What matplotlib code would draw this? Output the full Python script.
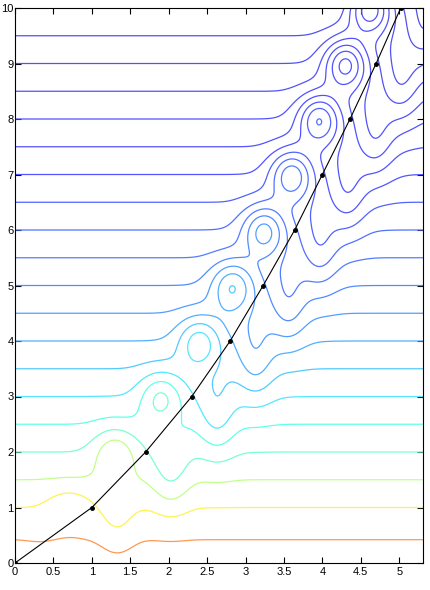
import numpy as np
import matplotlib
matplotlib.use("Agg")
import matplotlib.pyplot as plt

# path points (black line with dots)
path_x = [0.0, 1.0, 1.7, 2.3, 2.8, 3.23, 3.64, 4.0, 4.36, 4.7, 5.02]
path_y = [0, 1, 2, 3, 4, 5, 6, 7, 8, 9, 10]

# depth of the closed "bulb" left of each path point and of the dip right of it
bulb_depth = [0.15, 0.45, 0.9, 1.1, 1.3, 1.5, 1.7, 1.85, 2.0, 2.15, 2.3]
bulb_shift = [0.4, 0.3, 0.4, 0.4, 0.4, 0.4, 0.4, 0.4, 0.4, 0.4, 0.4]
dip_height = [0.1, 0.35, 0.55, 0.62, 0.68, 0.72, 0.76, 0.8, 0.82, 0.84, 0.86]

# contour levels
levels = [0.42, 1.0, 1.5, 2.0, 2.5, 3.0, 3.5, 4.0, 4.5, 5.0, 5.5, 6.0,
          6.5, 7.0, 7.5, 8.0, 8.5, 9.0, 9.5, 10.0, 10.5]

xticks = [0, 0.5, 1, 1.5, 2, 2.5, 3, 3.5, 4, 4.5, 5]
xtick_labels = ["0", "0.5", "1", "1.5", "2", "2.5", "3", "3.5", "4", "4.5", "5"]
yticks = list(range(11))

gx = np.linspace(0, 5.31, 500)
gy = np.linspace(-0.3, 10.8, 900)
X, Y = np.meshgrid(gx, gy)
F = Y.copy()
for k, (xi, yi, a, d, b) in enumerate(zip(path_x, path_y, bulb_depth,
                                           bulb_shift, dip_height)):
    sy = 0.35 if k < 2 else 0.45
    F -= a * np.exp(-(((X - xi + d) / 0.27) ** 2 + ((Y - yi) / sy) ** 2))
    F += b * np.exp(-(((X - xi - 0.33) / 0.23) ** 2 + ((Y - yi + 0.35) / 0.75) ** 2))

fig = plt.figure(figsize=(4.3, 5.9), dpi=100)
ax = fig.add_axes([15 / 430, 1 - 563 / 590, (423 - 15) / 430, (563 - 8) / 590])

cmap = plt.get_cmap("jet")
cols = []
for lv in levels:
    t = np.interp(lv, [0.42, 1.0, 1.5, 2.0, 3.0, 4.0, 5.0, 7.0, 10.5],
                  [0.80, 0.66, 0.55, 0.42, 0.34, 0.26, 0.21, 0.13, 0.08])
    c = np.array(cmap(t))
    c[:3] = c[:3] * 0.68 + 0.32
    cols.append(c)
ax.contour(X, Y, F, levels=levels, colors=cols, linewidths=0.9)

ax.plot(path_x, path_y, color="black", lw=0.8, marker="o", ms=2.5)

ax.set_xlim(0, 5.31)
ax.set_ylim(0, 10)
ax.set_xticks(xticks)
ax.set_xticklabels(xtick_labels)
ax.set_yticks(yticks)
ax.tick_params(direction="in", top=True, right=True, length=4, labelsize=8)
ax.tick_params(axis="x", pad=3)
ax.tick_params(axis="y", pad=1)
for lab in ax.get_xticklabels() + ax.get_yticklabels():
    lab.set_family(["Liberation Sans", "DejaVu Sans"])
for s in ax.spines.values():
    s.set_linewidth(0.8)

fig.savefig("out.png", dpi=100)
